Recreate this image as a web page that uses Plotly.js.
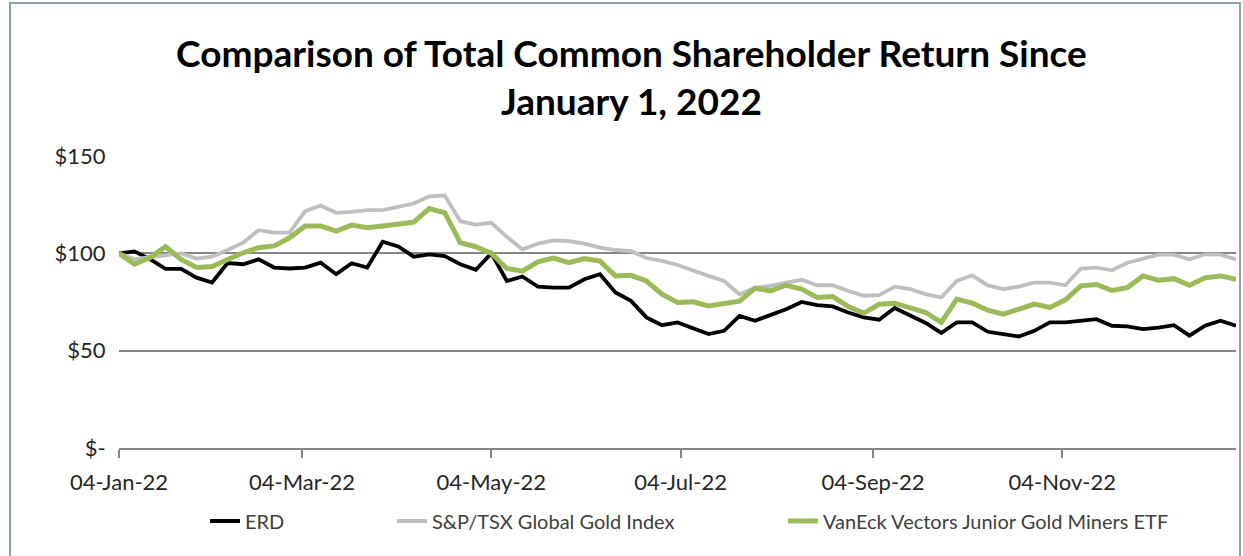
<!DOCTYPE html>
<html>
<head>
<meta charset="utf-8">
<script src="https://cdn.plot.ly/plotly-3.0.1.min.js"></script>
<style>
  html, body { margin: 0; padding: 0; background: #ffffff; }
  #chart { width: 1243px; height: 556px; }
</style>
</head>
<body>
<div id="chart"></div>
<script>
// Sample dates (every 5 days from 04-Jan-22)
const dates = [
  '2022-01-04','2022-01-09','2022-01-14','2022-01-19','2022-01-24','2022-01-29',
  '2022-02-03','2022-02-08','2022-02-13','2022-02-18','2022-02-23','2022-02-28',
  '2022-03-05','2022-03-10','2022-03-15','2022-03-20','2022-03-25','2022-03-30',
  '2022-04-04','2022-04-09','2022-04-14','2022-04-19','2022-04-24','2022-04-29',
  '2022-05-04','2022-05-09','2022-05-14','2022-05-19','2022-05-24','2022-05-29',
  '2022-06-03','2022-06-08','2022-06-13','2022-06-18','2022-06-23','2022-06-28',
  '2022-07-03','2022-07-08','2022-07-13','2022-07-18','2022-07-23','2022-07-28',
  '2022-08-02','2022-08-07','2022-08-12','2022-08-17','2022-08-22','2022-08-27',
  '2022-09-01','2022-09-06','2022-09-11','2022-09-16','2022-09-21','2022-09-26',
  '2022-10-01','2022-10-06','2022-10-11','2022-10-16','2022-10-21','2022-10-26',
  '2022-10-31','2022-11-05','2022-11-10','2022-11-15','2022-11-20','2022-11-25',
  '2022-11-30','2022-12-05','2022-12-10','2022-12-15','2022-12-20','2022-12-25',
  '2022-12-30'
];

const erd = [
  100, 101, 97, 92, 92, 87.5,
  85, 95, 94.4, 96.9, 92.7, 92.2,
  92.7, 95.2, 89.3, 94.9, 92.7, 106,
  103.5, 98.3, 99.5, 98.6, 94.4, 91.5,
  100, 85.8, 88.1, 82.9, 82.4, 82.4,
  86.7, 89.3, 79.9, 75.6, 67.1, 63.1,
  64.5, 61.4, 58.5, 60.2, 67.9, 65.4,
  68.3, 71.3, 75, 73.4, 72.7, 69.6,
  67.1, 65.9, 71.9, 67.9, 64.2, 59.1,
  64.5, 64.5, 59.7, 58.5, 57.3, 60.2,
  64.5, 64.5, 65.4, 66.2, 62.8, 62.5,
  61.1, 61.8, 63.1, 57.7, 62.8, 65.4,
  62.8
];

const tsxGold = [
  100, 97, 98, 99, 100, 97.3,
  98.3, 101.7, 105.5, 111.9, 110.6, 110.6,
  121.7, 124.6, 120.8, 121.3, 122.2, 122.2,
  124, 125.6, 129.3, 129.7, 116.5, 114.8,
  115.7, 108.5, 102, 105, 106.7, 106.3,
  105, 102.9, 101.7, 101.2, 97.6, 96.1,
  94, 91, 88.4, 85.8, 79, 82.3,
  83.3, 85, 86.4, 83.6, 83.6, 80.7,
  78.2, 78.5, 82.9, 81.6, 79, 77.3,
  85.8, 88.7, 83.5, 81.6, 82.9, 85,
  85, 83.6, 92.2, 92.7, 91.3, 95.2,
  97.3, 99.3, 99.3, 96.9, 99.5, 99.3,
  96.9
];

const juniorMiners = [
  100, 94.4, 97.8, 103.4, 96.9, 92.7,
  93.2, 96.9, 100.3, 102.9, 103.8, 108,
  114, 114, 111.4, 114.5, 113.1, 114,
  114.8, 116, 123, 120.8, 105.5, 103.4,
  100, 92.2, 90.8, 95.6, 97.6, 95.2,
  97.3, 96, 88.4, 88.7, 85.8, 79,
  74.8, 75.1, 73, 73.9, 75.4, 82.1,
  80.7, 83.6, 81.6, 77.3, 77.8, 72.7,
  69.3, 73.9, 74.4, 72, 69.6, 64.5,
  76.5, 74.4, 70.8, 68.8, 71.3, 73.9,
  72.2, 76.1, 83.3, 84, 80.9, 82.4,
  88.4, 86.2, 87, 83.6, 87.4, 88.4,
  86.7
];

const seriesNames = ['ERD', 'S&P/TSX Global Gold Index', 'VanEck Vectors Junior Gold Miners ETF'];
const xTickVals = ['2022-01-04','2022-03-04','2022-05-04','2022-07-04','2022-09-04','2022-11-04'];
const xTickText = ['04-Jan-22','04-Mar-22','04-May-22','04-Jul-22','04-Sep-22','04-Nov-22'];
const yTickVals = [0, 50, 100, 150];
const yTickText = ['$-', '$50', '$100', '$150'];

const FONT = 'Lato, "Open Sans", sans-serif';

const traces = [
  { x: dates, y: erd, name: seriesNames[0], type: 'scatter', mode: 'lines',
    line: { color: '#000000', width: 3.8 }, legend: 'legend' },
  { x: dates, y: tsxGold, name: seriesNames[1], type: 'scatter', mode: 'lines',
    line: { color: '#BFBFBF', width: 3.8 }, legend: 'legend2' },
  { x: dates, y: juniorMiners, name: seriesNames[2], type: 'scatter', mode: 'lines',
    line: { color: '#9BBB59', width: 5 }, legend: 'legend3' }
];

const legendBase = {
  orientation: 'h', yanchor: 'middle', xanchor: 'left', y: -0.25,
  font: { family: FONT, size: 20, color: '#404040' },
  bgcolor: 'rgba(0,0,0,0)', borderwidth: 0
};

const layout = {
  width: 1243, height: 556,
  margin: { l: 119, r: 7, t: 156, b: 108, pad: 0 },
  paper_bgcolor: '#ffffff', plot_bgcolor: '#ffffff',
  showlegend: true,
  title: {
    text: '<b>Comparison of Total Common Shareholder Return Since<br>January 1, 2022</b>',
    font: { family: FONT, size: 37, color: '#000000' },
    x: 0.508, xref: 'container', xanchor: 'center',
    y: 0.88, yref: 'container', yanchor: 'top'
  },
  xaxis: {
    type: 'date',
    range: ['2022-01-04', '2022-12-30'],
    tickvals: xTickVals, ticktext: xTickText,
    showgrid: false, zeroline: false,
    showline: true, linecolor: '#868686', linewidth: 2,
    ticks: 'outside', ticklen: 8, tickwidth: 2, tickcolor: '#868686',
    ticklabelstandoff: 6,
    tickfont: { family: FONT, size: 22, color: '#262626' }
  },
  yaxis: {
    range: [0, 150],
    tickvals: yTickVals, ticktext: yTickText,
    showgrid: true, gridcolor: '#868686', gridwidth: 2,
    zeroline: false, showline: false,
    ticks: 'outside', ticklen: 8, tickcolor: 'rgba(0,0,0,0)',
    tickfont: { family: FONT, size: 22, color: '#262626' }
  },
  legend: Object.assign({}, legendBase, { x: 0.077 }),
  legend2: Object.assign({}, legendBase, { x: 0.2444 }),
  legend3: Object.assign({}, legendBase, { x: 0.5944 }),
  shapes: [
    { type: 'rect', xref: 'paper', yref: 'paper',
      x0: (10 - 119) / 1117, x1: (1240 - 119) / 1117,
      y0: (448 - 600) / 292, y1: (448 - 3) / 292,
      line: { color: '#8aa3ab', width: 2 }, fillcolor: 'rgba(0,0,0,0)', layer: 'below' }
  ]
};

Plotly.newPlot('chart', traces, layout, { displayModeBar: false, staticPlot: true });
</script>
</body>
</html>
